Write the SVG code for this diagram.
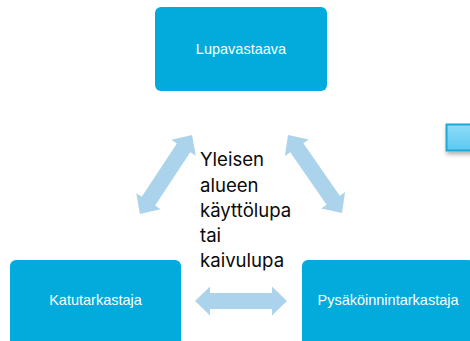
<svg xmlns="http://www.w3.org/2000/svg" width="470" height="341" viewBox="0 0 470 341">
  <style>
    .box { fill: #02abdb; }
    .lbl { font-family: "Liberation Sans", Arial, sans-serif; font-size: 14.5px; fill: #ffffff; text-anchor: middle; }
    .arr { fill: #abd3eb; }
    .mid { font-family: Inter, "Liberation Sans", sans-serif; font-size: 18.6px; fill: #0a0a0a; }
  </style>
  <defs>
    <path id="dbl" d="M-46,0 L-31,-14.5 L-31,-8 L31,-8 L31,-14.5 L46,0 L31,14.5 L31,8 L-31,8 L-31,14.5 Z"/>
    <linearGradient id="g" x1="0" y1="0" x2="0" y2="1">
      <stop offset="0" stop-color="#8fdcf8"/>
      <stop offset="1" stop-color="#5cc8f2"/>
    </linearGradient>
    <filter id="sh" x="-50%" y="-50%" width="200%" height="200%">
      <feDropShadow dx="1" dy="3" stdDeviation="2" flood-color="#000" flood-opacity="0.3"/>
    </filter>
  </defs>
  <rect width="470" height="341" fill="#ffffff"/>
  <g id="connectors">
    <use href="#dbl" class="arr" transform="translate(166,174.5) rotate(-56.6) scale(1.03,1)"/>
    <use href="#dbl" class="arr" transform="translate(315,174) rotate(55.3) scale(1.03,1)"/>
    <use href="#dbl" class="arr" transform="translate(241,301)"/>
  </g>
  <g id="lupavastaava">
    <rect class="box" x="155" y="7" width="172" height="84" rx="6"/>
    <text class="lbl" x="241" y="54">Lupavastaava</text>
  </g>
  <g id="katutarkastaja">
    <rect class="box" x="10" y="260" width="171" height="95" rx="6"/>
    <text class="lbl" x="95.5" y="305">Katutarkastaja</text>
  </g>
  <g id="pysakoinnintarkastaja">
    <rect class="box" x="302" y="260" width="172" height="95" rx="6"/>
    <text class="lbl" x="388" y="305">Pysäköinnintarkastaja</text>
  </g>
  <g id="small-box">
    <rect x="446.5" y="124.5" width="40" height="26" fill="url(#g)" stroke="#1ea8d8" stroke-width="2" filter="url(#sh)"/>
  </g>
  <g id="center-text">
    <text class="mid" x="200" y="166">Yleisen</text>
    <text class="mid" x="200" y="191.5">alueen</text>
    <text class="mid" x="200" y="217">käyttölupa</text>
    <text class="mid" x="200" y="242">tai</text>
    <text class="mid" x="200" y="267">kaivulupa</text>
  </g>
</svg>
